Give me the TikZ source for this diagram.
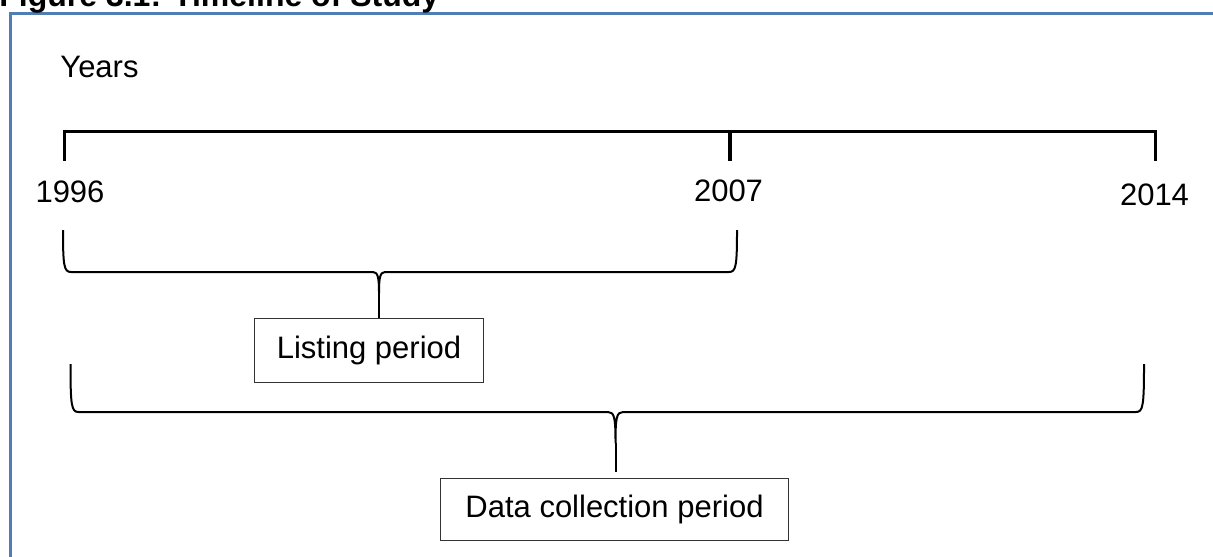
\documentclass[tikz,border=0pt]{standalone}
\usepackage{fontspec}
\setmainfont{Liberation Sans}
\usepackage{xcolor}
\usetikzlibrary{positioning}
\definecolor{fblue}{RGB}{79,125,180}

\begin{document}
\begin{tikzpicture}[x=0.5pt, y=-0.5pt,
  lbl/.style={inner sep=0pt, anchor=base, font=\fontsize{15.5}{18}\selectfont},
  period/.style={draw=black!80, line width=0.75pt, inner sep=0pt, font=\fontsize{15.5}{18}\selectfont},
  curly/.style={line width=1pt, line join=round}]%
  \def\yline{131.5}%
  \def\ytick{160.5}%
  \useasboundingbox (0,0) rectangle (1213,556);

  %frame and title:
  \draw[color=fblue, line width=1.5pt] (10.5,580) -- (10.5,14) -- (1230,14);
  \node[lbl, anchor=base west, font=\bfseries\fontsize{16}{18}\selectfont] (title) at (-1,6.5) {Figure 3.1: Timeline of Study};
  \node[lbl, anchor=base west] (years) at (60,78) {Years};

  %timeline:
  \coordinate (t96) at (64.5,\ytick);
  \coordinate (t07) at (730,\ytick);
  \coordinate (t14) at (1155.5,\ytick);
  \draw[line width=1.75pt] (t96) -- (t96 |- 0,\yline) -| (t14);
  \draw[line width=1.75pt] (t07) -- (t07 |- 0,\yline);
  \foreach \x/\y/\yr in {70/202/1996, 728.5/201/2007, 1154.5/205/2014}{
    \node[lbl] (y\yr) at (\x,\y) {\yr};
  }

  %periods:
  \node[period, minimum width=114.5pt, minimum height=32pt] (listing) at (369,350.5) {Listing period};
  \node[period, minimum width=174pt, minimum height=31pt] (data) at (614.5,509.5) {Data collection period};

  %braces:
  \foreach \xl/\xr/\yt/\yh/\xt/\w/\dp/\gap/\pnode in {63/737/230/272/379/6/21/0/listing, 70.5/1144/364/412/615.5/7.5/31/3/data}{
    \coordinate (tip) at (\xt,\yh+\dp);
    \draw[curly] (\xl,\yt) .. controls (\xl,\yh-6) and (\xl+1,\yh) .. (\xl+8,\yh)
      -- (\xt-\w,\yh) .. controls (\xt-1,\yh) and (\xt,\yh+6) .. (tip)
      .. controls (\xt,\yh+6) and (\xt+1,\yh) .. (\xt+\w,\yh)
      -- (\xr-8,\yh) .. controls (\xr-1,\yh) and (\xr,\yh-6) .. (\xr,\yt);
    \draw[curly] (tip) -- ([yshift=\gap pt]tip |- \pnode.north);
  }
\end{tikzpicture}
\end{document}
